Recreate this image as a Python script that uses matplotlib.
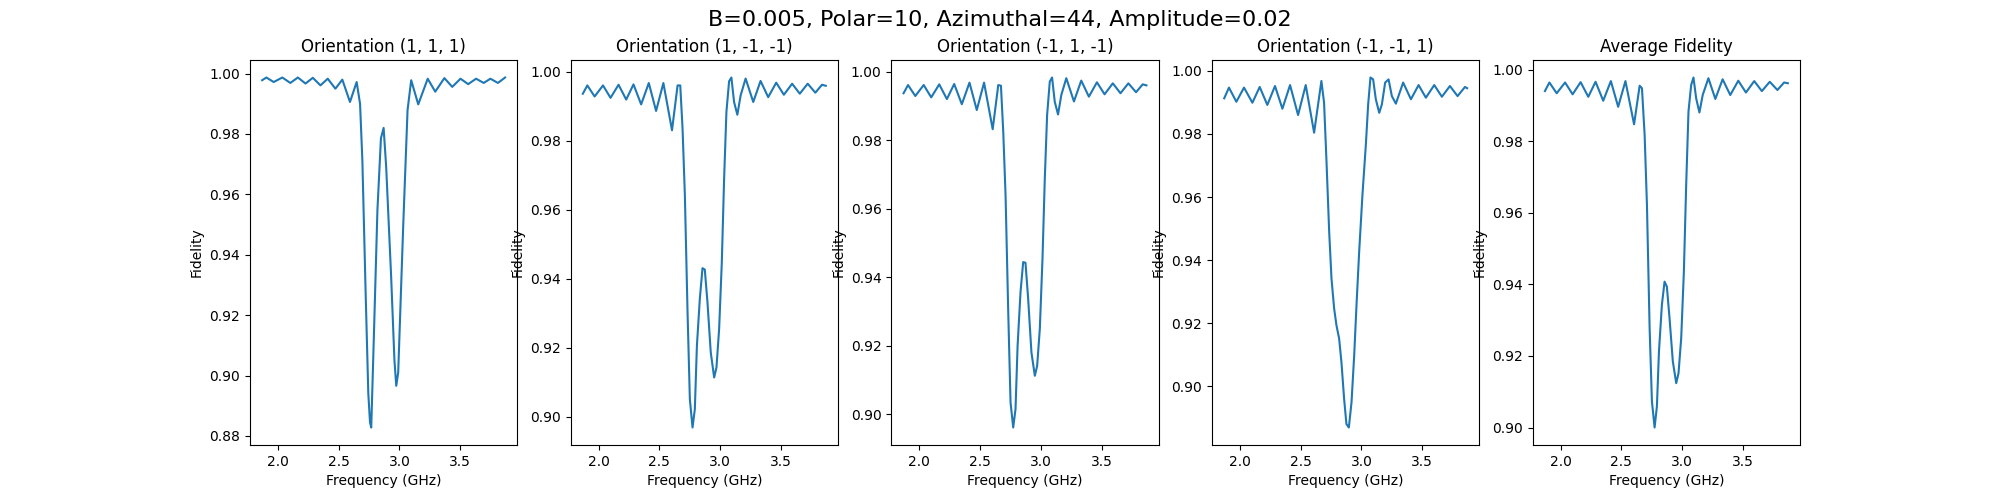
import matplotlib
matplotlib.use("Agg")
import matplotlib.pyplot as plt

suptitle_text = "B=0.005, Polar=10, Azimuthal=44, Amplitude=0.02"
titles = ["Orientation (1, 1, 1)", "Orientation (1, -1, -1)", "Orientation (-1, 1, -1)",
          "Orientation (-1, -1, 1)", "Average Fidelity"]

freq_111 = [1.870, 1.905, 1.965, 2.036, 2.102, 2.164, 2.227, 2.287, 2.350, 2.410,
            2.473, 2.530, 2.593, 2.648, 2.676, 2.695, 2.722, 2.744, 2.758, 2.768,
            2.792, 2.819, 2.848, 2.870, 2.891, 2.932, 2.959, 2.974, 2.990, 3.031,
            3.067, 3.097, 3.155, 3.233, 3.295, 3.370, 3.435, 3.503, 3.566, 3.631,
            3.694, 3.749, 3.811, 3.870]
fid_111 = [0.9978, 0.9987, 0.9972, 0.9987, 0.9969, 0.9987, 0.9967, 0.9986, 0.9961, 0.9983,
           0.9950, 0.9980, 0.9906, 0.9972, 0.9900, 0.9713, 0.9273, 0.8940, 0.8845, 0.8828,
           0.9162, 0.9548, 0.9786, 0.9820, 0.9691, 0.9327, 0.9051, 0.8966, 0.9010, 0.9493,
           0.9879, 0.9978, 0.9898, 0.9983, 0.9940, 0.9985, 0.9956, 0.9983, 0.9965, 0.9983,
           0.9969, 0.9983, 0.9969, 0.9987]

freq_1mm = [1.870, 1.907, 1.967, 2.036, 2.098, 2.164, 2.227, 2.287, 2.350, 2.413,
            2.473, 2.533, 2.604, 2.650, 2.672, 2.691, 2.710, 2.732, 2.751, 2.773,
            2.792, 2.809, 2.833, 2.855, 2.874, 2.896, 2.923, 2.951, 2.970, 2.992,
            3.014, 3.033, 3.052, 3.074, 3.093, 3.115, 3.142, 3.169, 3.210, 3.273,
            3.333, 3.396, 3.462, 3.525, 3.593, 3.656, 3.721, 3.784, 3.839, 3.870]
fid_1mm = [0.9937, 0.9961, 0.9929, 0.9961, 0.9925, 0.9963, 0.9920, 0.9964, 0.9906, 0.9968,
           0.9887, 0.9968, 0.9831, 0.9961, 0.9961, 0.9835, 0.9642, 0.9303, 0.9051, 0.8969,
           0.9022, 0.9206, 0.9342, 0.9431, 0.9427, 0.9332, 0.9187, 0.9114, 0.9143, 0.9255,
           0.9448, 0.9690, 0.9884, 0.9973, 0.9984, 0.9913, 0.9876, 0.9932, 0.9981, 0.9913,
           0.9974, 0.9927, 0.9969, 0.9934, 0.9966, 0.9937, 0.9966, 0.9940, 0.9963, 0.9960]

freq_m1m = [1.870, 1.907, 1.967, 2.036, 2.098, 2.164, 2.227, 2.287, 2.350, 2.413,
            2.473, 2.533, 2.604, 2.650, 2.672, 2.691, 2.710, 2.732, 2.751, 2.773,
            2.792, 2.809, 2.833, 2.855, 2.874, 2.896, 2.923, 2.951, 2.970, 2.992,
            3.014, 3.033, 3.052, 3.074, 3.093, 3.115, 3.142, 3.169, 3.210, 3.273,
            3.333, 3.396, 3.462, 3.525, 3.593, 3.656, 3.721, 3.784, 3.839, 3.870]
fid_m1m = [0.9937, 0.9961, 0.9929, 0.9961, 0.9925, 0.9963, 0.9920, 0.9964, 0.9905, 0.9968,
           0.9888, 0.9968, 0.9832, 0.9961, 0.9959, 0.9824, 0.9639, 0.9298, 0.9034, 0.8961,
           0.9015, 0.9200, 0.9356, 0.9444, 0.9442, 0.9337, 0.9180, 0.9112, 0.9141, 0.9249,
           0.9454, 0.9688, 0.9873, 0.9971, 0.9983, 0.9912, 0.9875, 0.9932, 0.9981, 0.9913,
           0.9974, 0.9927, 0.9969, 0.9934, 0.9966, 0.9937, 0.9966, 0.9940, 0.9963, 0.9960]

freq_mm1 = [1.870, 1.909, 1.970, 2.033, 2.102, 2.162, 2.225, 2.288, 2.349, 2.412,
            2.478, 2.541, 2.610, 2.670, 2.692, 2.712, 2.734, 2.753, 2.775, 2.794,
            2.816, 2.835, 2.857, 2.876, 2.896, 2.918, 2.940, 2.959, 2.981, 3.008,
            3.036, 3.055, 3.074, 3.096, 3.118, 3.146, 3.168, 3.195, 3.223, 3.250,
            3.283, 3.343, 3.407, 3.470, 3.530, 3.599, 3.662, 3.728, 3.791, 3.852,
            3.870]
fid_mm1 = [0.9913, 0.9947, 0.9902, 0.9947, 0.9899, 0.9949, 0.9892, 0.9952, 0.9880, 0.9955,
           0.9860, 0.9955, 0.9804, 0.9968, 0.9899, 0.9713, 0.9490, 0.9342, 0.9246, 0.9193,
           0.9151, 0.9076, 0.8960, 0.8880, 0.8869, 0.8949, 0.9098, 0.9257, 0.9427, 0.9607,
           0.9766, 0.9894, 0.9979, 0.9973, 0.9910, 0.9867, 0.9894, 0.9963, 0.9973, 0.9920,
           0.9896, 0.9963, 0.9910, 0.9955, 0.9915, 0.9955, 0.9918, 0.9952, 0.9920, 0.9949,
           0.9945]

freq_avg = [1.870, 1.907, 1.967, 2.036, 2.098, 2.164, 2.227, 2.287, 2.350, 2.413,
            2.473, 2.533, 2.604, 2.650, 2.669, 2.691, 2.710, 2.732, 2.751, 2.773,
            2.792, 2.809, 2.833, 2.855, 2.874, 2.896, 2.923, 2.951, 2.970, 2.992,
            3.014, 3.033, 3.052, 3.074, 3.093, 3.115, 3.142, 3.169, 3.216, 3.273,
            3.333, 3.396, 3.462, 3.525, 3.593, 3.656, 3.721, 3.784, 3.839, 3.870]
fid_avg = [0.9941, 0.9965, 0.9935, 0.9965, 0.9932, 0.9966, 0.9925, 0.9967, 0.9914, 0.9969,
           0.9897, 0.9969, 0.9848, 0.9956, 0.9949, 0.9818, 0.9623, 0.9278, 0.9073, 0.9000,
           0.9059, 0.9213, 0.9343, 0.9408, 0.9394, 0.9306, 0.9185, 0.9124, 0.9152, 0.9250,
           0.9436, 0.9678, 0.9884, 0.9958, 0.9979, 0.9921, 0.9881, 0.9930, 0.9977, 0.9919,
           0.9974, 0.9930, 0.9970, 0.9937, 0.9969, 0.9941, 0.9967, 0.9944, 0.9965, 0.9963]

freqs = [freq_111, freq_1mm, freq_m1m, freq_mm1, freq_avg]
fids = [fid_111, fid_1mm, fid_m1m, fid_mm1, fid_avg]

fig, axes = plt.subplots(1, 5, figsize=(20, 5), dpi=100)
fig.suptitle(suptitle_text, fontsize=16)
for ax, f, v, t in zip(axes, freqs, fids, titles):
    ax.plot(f, v, color="#1f77b4")
    ax.set_title(t)
    ax.set_xlabel("Frequency (GHz)")
    ax.set_ylabel("Fidelity")

fig.savefig("out.png", dpi=100)
